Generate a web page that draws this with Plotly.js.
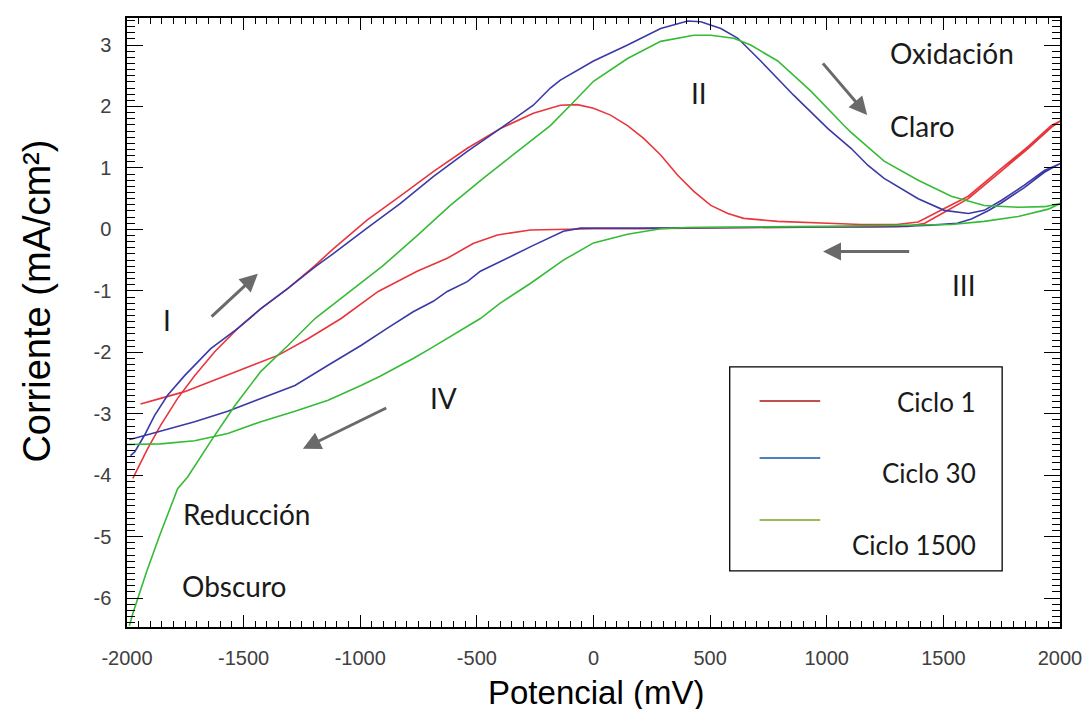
<!DOCTYPE html>
<html>
<head>
<meta charset="utf-8">
<script src="https://cdn.plot.ly/plotly-3.0.1.min.js"></script>
<style>html,body{margin:0;padding:0;background:#fff;}#chart{width:1083px;height:709px;}</style>
</head>
<body>
<div id="chart"></div>
<script>
// Series names and colours
const seriesNames = ["Ciclo 1", "Ciclo 30", "Ciclo 1500"];
const curveColors = ["#e8363c", "#3a3aa6", "#36bb36"];
const legendColors = ["#C0504D", "#4F81BD", "#9BBB59"];

// Ciclo 1 (potential in mV, current in mA/cm2)
const ciclo1X = [-1975,-1912,-1856,-1783,-1710,-1624,-1525,-1426,-1310,-1194,-1117,-971,-829,-687,-541,-400,-258,-142,-69,0,73,146,215,288,361,430,503,576,644,790,1005,1147,1300,1392,1504,1607,1748,1864,1963,2000,
  1963,1864,1748,1607,1504,1420,1350,1200,1000,800,600,400,200,0,-129,-271,-412,-516,-627,-756,-923,-1082,-1224,-1353,-1495,-1641,-1753,-1856,-1942];
const ciclo1Y = [-4.05,-3.57,-3.19,-2.75,-2.38,-1.99,-1.61,-1.29,-0.96,-0.59,-0.32,0.15,0.54,0.94,1.32,1.64,1.89,2.02,2.03,1.97,1.86,1.69,1.48,1.21,0.88,0.62,0.39,0.26,0.18,0.13,0.10,0.08,0.08,0.12,0.34,0.54,0.99,1.35,1.69,1.76,
  1.66,1.32,0.95,0.50,0.28,0.10,0.05,0.04,0.04,0.03,0.03,0.02,0.01,0.01,0.0,-0.01,-0.09,-0.23,-0.47,-0.68,-1.01,-1.45,-1.78,-2.05,-2.26,-2.48,-2.64,-2.75,-2.84];

// Ciclo 30
const ciclo30X = [-1985,-1967,-1925,-1882,-1826,-1753,-1641,-1525,-1426,-1310,-1194,-1117,-971,-829,-687,-541,-400,-258,-185,-142,0,146,288,404,460,546,619,717,859,1005,1104,1177,1246,1392,1504,1607,1675,1748,1847,1933,2000,
  1933,1847,1748,1690,1620,1560,1450,1300,1000,700,400,200,0,-56,-129,-198,-258,-344,-400,-485,-541,-627,-687,-773,-885,-997,-1138,-1280,-1426,-1568,-1710,-1856,-1967,-1990];
const ciclo30Y = [-3.68,-3.62,-3.35,-3.03,-2.70,-2.38,-1.94,-1.61,-1.29,-0.96,-0.61,-0.40,0.02,0.42,0.86,1.27,1.64,2.02,2.30,2.43,2.74,3.00,3.27,3.39,3.38,3.27,3.11,2.74,2.18,1.64,1.32,1.04,0.83,0.50,0.31,0.26,0.31,0.47,0.72,0.96,1.07,
  0.93,0.68,0.43,0.30,0.17,0.10,0.07,0.05,0.04,0.03,0.03,0.02,0.02,0.02,-0.03,-0.15,-0.26,-0.42,-0.52,-0.68,-0.85,-1.01,-1.17,-1.34,-1.61,-1.89,-2.21,-2.54,-2.75,-2.96,-3.13,-3.29,-3.40,-3.42];

// Ciclo 1500
const ciclo1500X = [-1990,-1975,-1916,-1860,-1783,-1740,-1641,-1538,-1426,-1310,-1194,-1065,-902,-756,-614,-473,-326,-185,-99,0,146,288,430,503,601,674,790,932,1074,1104,1246,1392,1534,1675,1821,1933,2000,
  1950,1821,1675,1534,1392,1200,1000,700,400,288,146,0,-129,-271,-400,-485,-627,-700,-773,-915,-997,-1138,-1280,-1426,-1568,-1710,-1856,-2000];
const ciclo1500Y = [-6.45,-6.25,-5.57,-4.98,-4.22,-4.03,-3.45,-2.87,-2.31,-1.89,-1.45,-1.07,-0.59,-0.10,0.39,0.83,1.27,1.69,2.02,2.41,2.78,3.06,3.16,3.16,3.11,3.00,2.74,2.25,1.69,1.58,1.11,0.80,0.54,0.39,0.36,0.37,0.42,
  0.33,0.21,0.13,0.08,0.07,0.06,0.05,0.04,0.03,0.01,-0.08,-0.22,-0.50,-0.88,-1.20,-1.45,-1.78,-1.94,-2.10,-2.39,-2.54,-2.78,-2.96,-3.13,-3.32,-3.44,-3.49,-3.50];

// Tick values (labels written with a plain hyphen, as in the reference)
const xTicks = [-2000,-1500,-1000,-500,0,500,1000,1500,2000];
const yTicks = [-6,-5,-4,-3,-2,-1,0,1,2,3];

// Axis titles
const xTitle = "Potencial (mV)";
const yTitle = "Corriente (mA/cm²)";

// Text labels on the chart: [text, x (mV), y (mA/cm2)]
const labels = [
  ["Oxidación", 1538, 2.87],
  ["Claro", 1409, 1.68],
  ["II", 451, 2.22],
  ["III", 1590, -0.91],
  ["I", -1830, -1.48],
  ["IV", -644, -2.75],
  ["Reducción", -1486, -4.63],
  ["Obscuro", -1542, -5.81]
];
// Arrows: [tailX, tailY, headX, headY]
const arrows = [
  [-1646, -1.45, -1439, -0.72],
  [975, 2.74, 1173, 1.86],
  [1362, -0.36, 984, -0.36],
  [-880, -2.89, -1246, -3.57]
];

const xs = [ciclo1X, ciclo30X, ciclo1500X];
const ys = [ciclo1Y, ciclo30Y, ciclo1500Y];
const traces = xs.map((x, i) => ({
  x: x, y: ys[i], type: 'scatter', mode: 'lines', name: seriesNames[i],
  line: {color: curveColors[i], width: 1.6},
  showlegend: false
}));

const annFont = {family: 'Lato, "Noto Sans", sans-serif', size: 28, color: '#1a1a1a'};
const legFont = {family: 'Lato, "Noto Sans", sans-serif', size: 26, color: '#1a1a1a'};
const titleFont = {family: '"Liberation Sans", Arial, sans-serif', color: '#000'};
const annotations = labels.map(l => ({
  text: l[0], x: l[1], y: l[2], xref: 'x', yref: 'y', showarrow: false, font: annFont
}));
arrows.forEach(a => annotations.push({
  text: ' ', x: a[2], y: a[3], ax: a[0], ay: a[1], xref: 'x', yref: 'y', axref: 'x', ayref: 'y',
  showarrow: true, arrowhead: 2, arrowsize: 1.2, arrowwidth: 3, arrowcolor: '#6a6a6a', standoff: 0, startstandoff: 0,
  font: {size: 2}
}));
// Axis titles drawn as paper annotations
annotations.push({text: xTitle, xref: 'paper', yref: 'paper', x: 0.503, y: -0.107, xanchor: 'center', yanchor: 'middle',
  showarrow: false, font: Object.assign({size: 33}, titleFont)});
annotations.push({text: yTitle, xref: 'paper', yref: 'paper', x: -0.096, y: 0.535, xanchor: 'center', yanchor: 'middle',
  textangle: -90, showarrow: false, font: Object.assign({size: 38}, titleFont)});

// Custom legend box (paper coordinates)
const shapes = [{
  type: 'rect', xref: 'paper', yref: 'paper', x0: 0.646, x1: 0.938, y0: 0.092, y1: 0.427,
  line: {color: '#000', width: 1.3}
}];
const legLineY = [0.371, 0.2775, 0.1757];
const legTextY = [0.369, 0.253, 0.135];
seriesNames.forEach((n, i) => {
  shapes.push({type: 'line', xref: 'paper', yref: 'paper', x0: 0.678, x1: 0.743, y0: legLineY[i], y1: legLineY[i],
    line: {color: legendColors[i], width: 2}});
  annotations.push({text: n, xref: 'paper', yref: 'paper', x: 0.912, y: legTextY[i], xanchor: 'right', yanchor: 'middle',
    showarrow: false, font: legFont});
});

const tickFont = {family: '"Liberation Sans", Arial, sans-serif', size: 20, color: '#404040'};
const layout = {
  width: 1083, height: 709,
  margin: {l: 127, r: 23, t: 18, b: 82},
  xaxis: {
    range: [-2000, 2000], tickmode: 'array', tickvals: xTicks, ticktext: xTicks.map(String),
    ticks: 'inside', ticklen: 12, tickcolor: '#000', mirror: 'allticks',
    minor: {dtick: 50, ticks: 'inside', ticklen: 6, tickcolor: '#000'},
    showline: true, linecolor: '#000', linewidth: 1.6,
    showgrid: false, zeroline: false, tickfont: tickFont, ticklabelstandoff: 12
  },
  yaxis: {
    range: [-6.47, 3.44], tickmode: 'array', tickvals: yTicks, ticktext: yTicks.map(String),
    ticks: 'inside', ticklen: 16, tickcolor: '#000', mirror: 'allticks',
    minor: {dtick: 0.1, ticks: 'inside', ticklen: 8, tickcolor: '#000'},
    showline: true, linecolor: '#000', linewidth: 1.6,
    showgrid: false, zeroline: false, tickfont: tickFont, ticklabelstandoff: 10
  },
  annotations: annotations,
  shapes: shapes
};

Plotly.newPlot('chart', traces, layout, {displayModeBar: false, staticPlot: true});
</script>
</body>
</html>
